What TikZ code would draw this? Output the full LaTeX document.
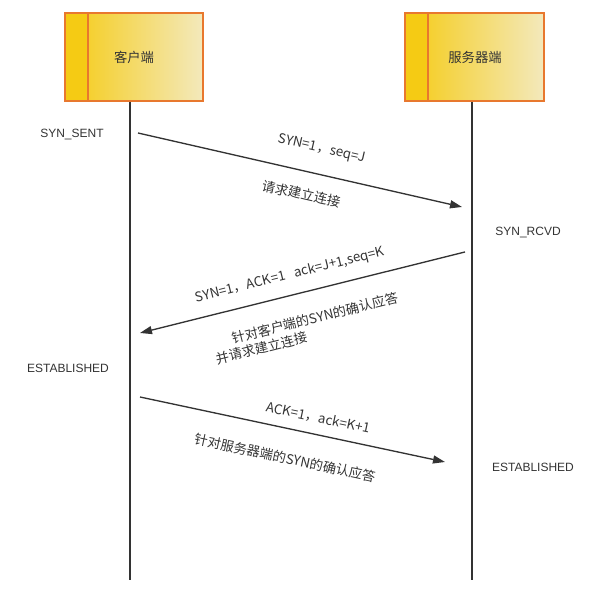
\documentclass[tikz,border=0pt]{standalone}
\usepackage{fontspec}
\setmainfont{Liberation Sans}
\newfontfamily\cjk{Noto Sans CJK SC}
\usetikzlibrary{arrows.meta}
\definecolor{boxor}{HTML}{E8782E}
\definecolor{yel}{HTML}{F5CB14}
\definecolor{pale}{HTML}{F3E9BC}
\definecolor{txt}{HTML}{333333}
\tikzset{
  life/.style={line width=1pt, draw=txt},
  msg/.style={line width=1pt, draw=txt, -{Triangle[length=9pt,width=6pt]}},
  lbl/.style={font=\cjk\fontsize{10}{11}\selectfont, text=txt, inner sep=1pt},
  state/.style={font=\fontsize{9}{11}\selectfont, text=txt}
}
\begin{document}
\begin{tikzpicture}[x=0.75pt,y=-0.75pt]
\useasboundingbox (0,0) rectangle (607,605);
% client box
\shade[left color=yel, right color=pale] (65,13) rectangle (203,101);
\fill[yel] (65,13) rectangle (88,101);
\draw[boxor, line width=1.2pt] (65,13) rectangle (203,101);
\draw[boxor, line width=1.2pt] (88,13) -- (88,101);
\node[lbl] (c) at (134,57) {客户端};
% server box
\shade[left color=yel, right color=pale] (405,13) rectangle (544,101);
\fill[yel] (405,13) rectangle (428,101);
\draw[boxor, line width=1.2pt] (405,13) rectangle (544,101);
\draw[boxor, line width=1.2pt] (428,13) -- (428,101);
\node[lbl] (s) at (475,57) {服务器端};
% lifelines
\coordinate (ct) at (130,102); \coordinate (cb) at (130,580);
\coordinate (st) at (472,102); \coordinate (sb) at (472,580);
\draw[life] (ct) -- (cb);
\draw[life] (st) -- (sb);
% states
\node[state] (s1) at (72,135) {SYN\_SENT};
\node[state] (s2) at (528,233) {SYN\_RCVD};
\node[state] (s3) at (68,368) {ESTABLISHED};
\node[state] (s4) at (533,467) {ESTABLISHED};
% messages
\coordinate (a1) at (138,133); \coordinate (b1) at (462,207);
\draw[msg] (a1) -- (b1);
\node[lbl, rotate=-12.9] (m1a) at (322,149) {SYN=1，seq=J};
\node[lbl, rotate=-12.9] (m1b) at (302,194) {请求建立连接};
\coordinate (a2) at (465,252); \coordinate (b2) at (140,333);
\draw[msg] (a2) -- (b2);
\node[lbl, rotate=14] (m2a) at (290,275) {SYN=1，ACK=1\ \ \ ack=J+1,seq=K};
\node[lbl, rotate=14] (m2b) at (315,318) {针对客户端的SYN的确认应答};
\node[lbl, rotate=14] (m2c) at (262,348) {并请求建立连接};
\coordinate (a3) at (140,397); \coordinate (b3) at (445,462);
\draw[msg] (a3) -- (b3);
\node[lbl, rotate=-12] (m3a) at (318,418) {ACK=1，ack=K+1};
\node[lbl, rotate=-12] (m3b) at (285,458) {针对服务器端的SYN的确认应答};
\end{tikzpicture}
\end{document}
